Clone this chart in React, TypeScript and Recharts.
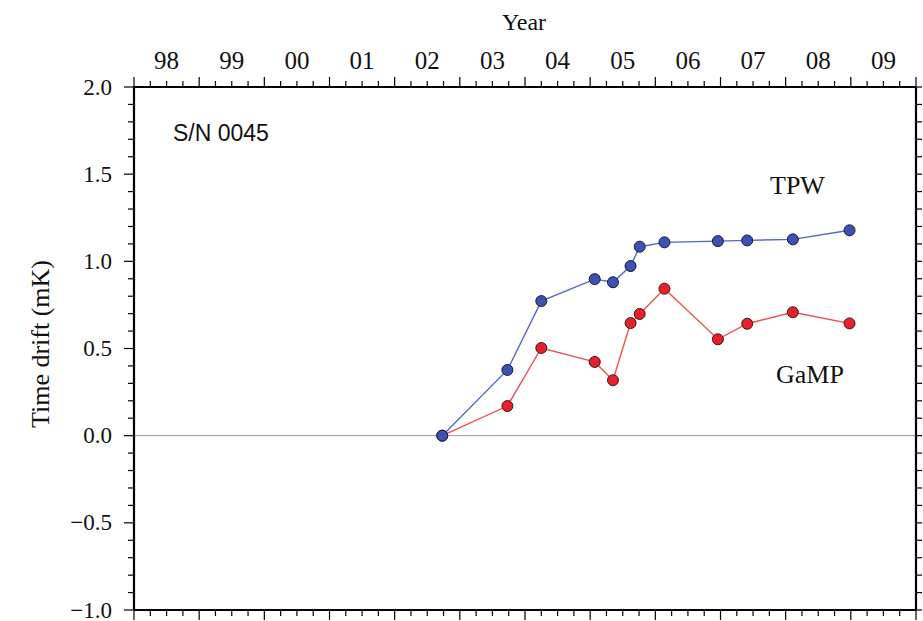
import React from 'react';
import { LineChart, Line, XAxis, YAxis, ReferenceLine, Customized } from 'recharts';

// Decimal year of each calibration
const years = [2002.73, 2003.73, 2004.25, 2005.07, 2005.35, 2005.62, 2005.76, 2006.14, 2006.96, 2007.41, 2008.11, 2008.98];
// Time drift (mK)
const tpwDrift = [0, 0.377, 0.772, 0.898, 0.88, 0.973, 1.084, 1.109, 1.116, 1.12, 1.126, 1.178];
const gampDrift = [0, 0.17, 0.503, 0.423, 0.318, 0.646, 0.698, 0.843, 0.553, 0.642, 0.708, 0.644];

const yearLabels = ['98', '99', '00', '01', '02', '03', '04', '05', '06', '07', '08', '09'];
const firstYear = 1998;
const lastYear = 2010;

const data = years.map((y, i) => ({ year: y, tpw: tpwDrift[i], gamp: gampDrift[i] }));

const xTicks: number[] = [];
for (let q = firstYear * 4; q <= lastYear * 4; q++) xTicks.push(q / 4);
const yTicks: number[] = [];
for (let i = -10; i <= 20; i++) yTicks.push(i / 10);

const SERIF = '"Liberation Serif", "Times New Roman", serif';
const SANS = '"Liberation Sans", Arial, sans-serif';

const TopTick = (props: any) => {
  const { x, y, payload } = props;
  const v = payload.value as number;
  const major = Math.abs(v - Math.round(v)) < 1e-6;
  const isMid = Math.abs(v - Math.floor(v) - 0.5) < 1e-6;
  const idx = Math.floor(v) - firstYear;
  return (
    <g>
      <line x1={x} x2={x} y1={y} y2={y - (major ? 10 : 6)} stroke="#000" strokeWidth={1.2} />
      {isMid && idx >= 0 && idx < yearLabels.length ? (
        <text x={x} y={y - 18} textAnchor="middle" fontFamily={SERIF} fontSize={25} fill="#111">
          {yearLabels[idx]}
        </text>
      ) : null}
    </g>
  );
};

const BottomTick = (props: any) => {
  const { x, y, payload } = props;
  const v = payload.value as number;
  const major = Math.abs(v - Math.round(v)) < 1e-6;
  return <line x1={x} x2={x} y1={y} y2={y + (major ? 10 : 6)} stroke="#000" strokeWidth={1.2} />;
};

const fmt = (v: number) => {
  const s = Math.abs(v).toFixed(1);
  return v < 0 ? '\u2212' + s : s;
};

const LeftTick = (props: any) => {
  const { x, y, payload } = props;
  const v = payload.value as number;
  const i = Math.round(v * 10);
  const major = i % 5 === 0;
  return (
    <g>
      <line x1={x} x2={x - (major ? 10 : 6)} y1={y} y2={y} stroke="#000" strokeWidth={1.2} />
      {major ? (
        <text x={x - 22} y={y} textAnchor="end" dominantBaseline="central" fontFamily={SERIF} fontSize={23} fill="#111">
          {fmt(v)}
        </text>
      ) : null}
    </g>
  );
};

const RightTick = (props: any) => {
  const { x, y } = props;
  return <line x1={x} x2={x + 6} y1={y} y2={y} stroke="#000" strokeWidth={1.2} />;
};

const Annotations = () => (
  <g>
    <text x={524} y={30} textAnchor="middle" fontFamily={SERIF} fontSize={24} fill="#111">Year</text>
    <text
      x={40}
      y={344}
      textAnchor="middle"
      dominantBaseline="central"
      transform="rotate(-90 40 344)"
      fontFamily={SERIF}
      fontSize={26}
      fill="#111"
    >
      Time drift (mK)
    </text>
    <text x={173} y={141} fontFamily={SANS} fontSize={23} fill="#111">S/N 0045</text>
    <text x={770} y={194} fontFamily={SERIF} fontSize={26} fill="#111">TPW</text>
    <text x={776} y={383} fontFamily={SERIF} fontSize={26} fill="#111">GaMP</text>
  </g>
);

export default function App() {
  return (
    <div style={{ position: 'absolute', left: 0, top: 0, background: '#fff' }}>
      <LineChart width={923} height={621} data={data} margin={{ top: 27, right: 0, bottom: 0, left: 74 }}>
        <XAxis
          xAxisId="top"
          orientation="top"
          dataKey="year"
          type="number"
          domain={[firstYear, lastYear]}
          ticks={xTicks}
          interval={0}
          allowDataOverflow
          height={60}
          tickSize={0}
          tickMargin={0}
          tickLine={false}
          tick={<TopTick />}
          axisLine={{ stroke: '#000', strokeWidth: 2.2 }}
        />
        <XAxis
          xAxisId="bottom"
          orientation="bottom"
          dataKey="year"
          type="number"
          domain={[firstYear, lastYear]}
          ticks={xTicks}
          interval={0}
          allowDataOverflow
          height={11}
          tickSize={0}
          tickMargin={0}
          tickLine={false}
          tick={<BottomTick />}
          axisLine={{ stroke: '#000', strokeWidth: 2.2 }}
        />
        <YAxis
          yAxisId="left"
          orientation="left"
          type="number"
          domain={[-1, 2]}
          ticks={yTicks}
          interval={0}
          allowDataOverflow
          width={60}
          tickSize={0}
          tickMargin={0}
          tickLine={false}
          tick={<LeftTick />}
          axisLine={{ stroke: '#000', strokeWidth: 2.2 }}
        />
        <YAxis
          yAxisId="right"
          orientation="right"
          type="number"
          domain={[-1, 2]}
          ticks={yTicks}
          interval={0}
          allowDataOverflow
          width={7}
          tickSize={0}
          tickMargin={0}
          tickLine={false}
          tick={<RightTick />}
          axisLine={{ stroke: '#000', strokeWidth: 2.2 }}
        />
        <ReferenceLine xAxisId="top" yAxisId="left" y={0} stroke="#9a9a9a" strokeWidth={1} />
        <Line
          xAxisId="top"
          yAxisId="left"
          dataKey="gamp"
          stroke="#f05050"
          strokeWidth={1.4}
          isAnimationActive={false}
          dot={{ r: 5.5, fill: '#e8202a', stroke: '#3a1a1a', strokeWidth: 1 }}
          activeDot={false}
        />
        <Line
          xAxisId="top"
          yAxisId="left"
          dataKey="tpw"
          stroke="#5566c8"
          strokeWidth={1.4}
          isAnimationActive={false}
          dot={{ r: 5.5, fill: '#3a52b0', stroke: '#1a1a3a', strokeWidth: 1 }}
          activeDot={false}
        />
        <Customized component={Annotations} />
      </LineChart>
    </div>
  );
}
